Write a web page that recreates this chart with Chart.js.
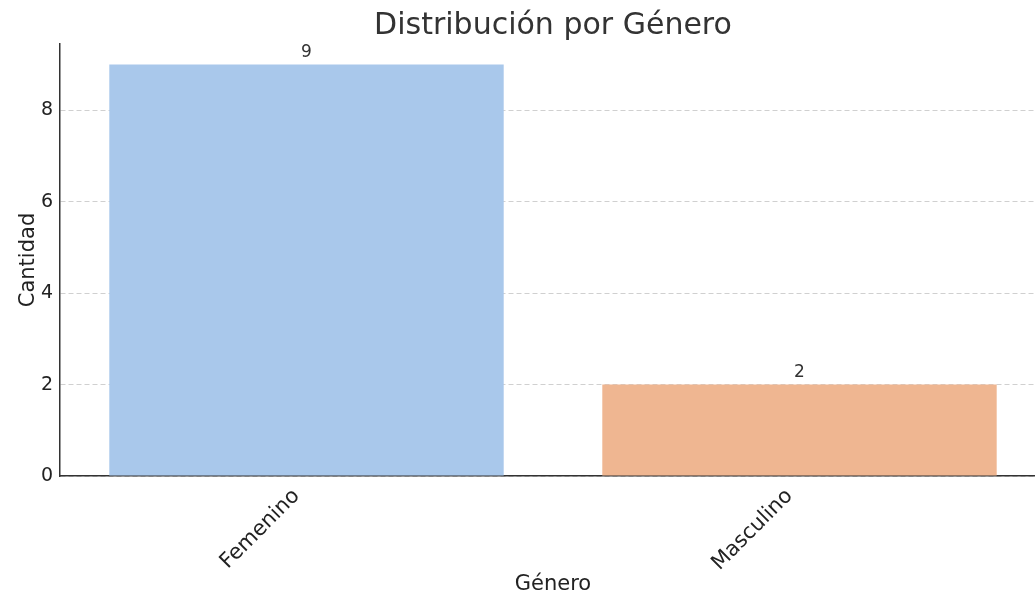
<!DOCTYPE html>
<html>
<head>
<meta charset="utf-8">
<script src="https://cdn.jsdelivr.net/npm/chart.js@4.4.1/dist/chart.umd.min.js"></script>
<style>
  html, body { margin: 0; padding: 0; background: #fff; overflow: hidden; }
  #wrap { position: absolute; left: 0; top: 0; width: 1106px; height: 597px; }
</style>
</head>
<body>
<div id="wrap"><canvas id="grafico" width="1106" height="597"></canvas></div>
<script>
const categorias = ['Femenino', 'Masculino'];
const cantidades = [9, 2];
const coloresBarras = ['#a9c8eb', '#efb691'];
const ticksY = [0, 2, 4, 6, 8];

const fuente = 'DejaVu Sans';

// etiquetas de valor encima de cada barra
const etiquetasValor = {
    id: 'etiquetasValor',
    afterDatasetsDraw(chart) {
        const ctx = chart.ctx;
        const meta = chart.getDatasetMeta(0);
        ctx.save();
        ctx.font = '17px "' + fuente + '"';
        ctx.fillStyle = '#333333';
        ctx.textAlign = 'center';
        ctx.textBaseline = 'bottom';
        meta.data.forEach((barra, i) => {
            ctx.fillText(String(cantidades[i]), barra.x, barra.y - 3);
        });
        ctx.restore();
    }
};

const ctx = document.getElementById('grafico').getContext('2d');

new Chart(ctx, {
    type: 'bar',
    data: {
        labels: categorias,
        datasets: [{
            data: cantidades,
            backgroundColor: coloresBarras,
            borderWidth: 0,
            barPercentage: 0.8,
            categoryPercentage: 1.0
        }]
    },
    options: {
        responsive: false,
        animation: false,
        devicePixelRatio: 1,
        layout: { padding: 0 },
        plugins: {
            legend: { display: false },
            tooltip: { enabled: false },
            title: {
                display: true,
                text: 'Distribución por Género',
                color: '#333333',
                font: { family: fuente, size: 30, weight: 'normal' },
                padding: { top: 8, bottom: 0 }
            }
        },
        scales: {
            x: {
                grid: { display: false, drawTicks: false },
                border: { display: true, color: '#333333', width: 1.5 },
                ticks: {
                    color: '#222222',
                    font: { family: fuente, size: 21 },
                    minRotation: 45,
                    maxRotation: 45,
                    padding: 8,
                    labelOffset: -10
                },
                title: {
                    display: true,
                    text: 'Género',
                    color: '#222222',
                    font: { family: fuente, size: 21 },
                    padding: { top: 0, bottom: 0 }
                },
                afterFit(scale) { scale.height = 121; }
            },
            y: {
                min: 0,
                max: 9.45,
                grid: {
                    color: '#d0d0d0',
                    lineWidth: 1,
                    drawTicks: false
                },
                border: { display: true, color: '#333333', width: 1.5, dash: [5, 3] },
                ticks: {
                    stepSize: 2,
                    includeBounds: false,
                    color: '#222222',
                    font: { family: fuente, size: 19 },
                    padding: 7
                },
                afterBuildTicks(scale) {
                    scale.ticks = ticksY.map(v => ({ value: v }));
                },
                title: {
                    display: true,
                    text: 'Cantidad',
                    color: '#222222',
                    font: { family: fuente, size: 21 },
                    padding: { top: 16, bottom: 0 }
                },
                afterFit(scale) { scale.width = 60; }
            },
            // eje vacío a la derecha: deja el área del gráfico hasta x=1046 y centra el título
            derecha: {
                type: 'linear',
                position: 'right',
                display: true,
                grid: { display: false, drawTicks: false },
                border: { display: false },
                ticks: { display: false },
                afterFit(scale) { scale.width = 60; }
            }
        }
    },
    plugins: [etiquetasValor]
});
</script>
</body>
</html>
